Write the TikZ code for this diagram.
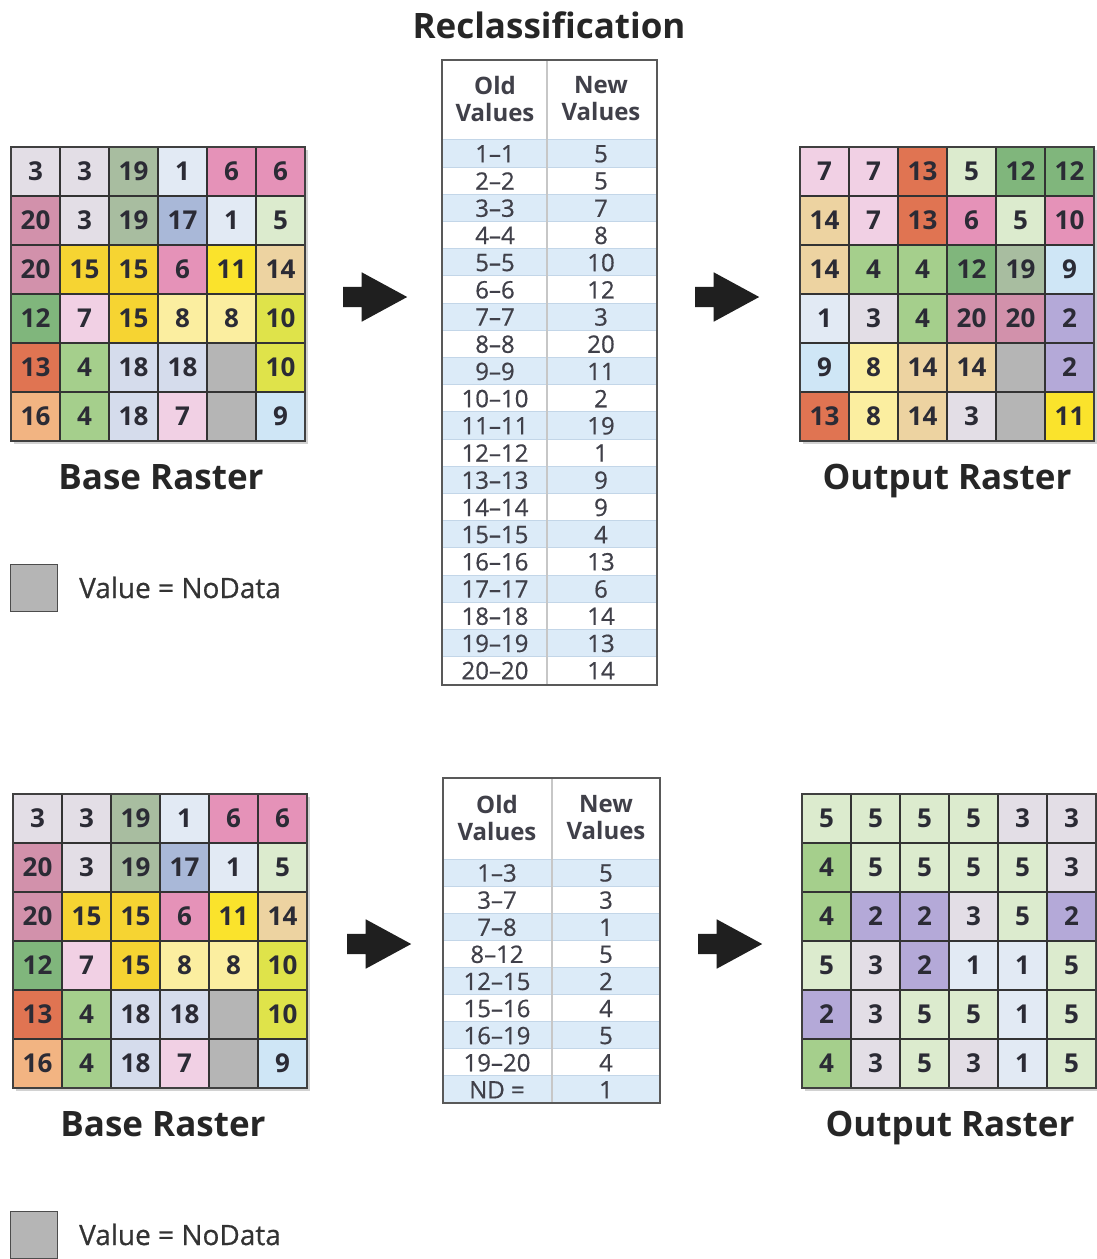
\documentclass[tikz,border=0pt]{standalone}
\usepackage{fontspec}
\setmainfont{Open Sans}
\newfontfamily\medfont[FakeBold=0.6]{Open Sans}
\usetikzlibrary{shapes.arrows}
\definecolor{c1}{HTML}{E2EAF4}
\definecolor{c2}{HTML}{B4A9D8}
\definecolor{c3}{HTML}{E3DEE6}
\definecolor{c4}{HTML}{A5CF8C}
\definecolor{c5}{HTML}{DCEBCE}
\definecolor{c6}{HTML}{E592B8}
\definecolor{c7}{HTML}{F1D0E4}
\definecolor{c8}{HTML}{FBEEA0}
\definecolor{c9}{HTML}{CFE6F6}
\definecolor{c10}{HTML}{DFE34A}
\definecolor{c11}{HTML}{FAE32C}
\definecolor{c12}{HTML}{80B67C}
\definecolor{c13}{HTML}{E07452}
\definecolor{c14}{HTML}{EDD3A1}
\definecolor{c15}{HTML}{F6D432}
\definecolor{c16}{HTML}{F2B482}
\definecolor{c17}{HTML}{A9B8D8}
\definecolor{c18}{HTML}{D5DCEC}
\definecolor{c19}{HTML}{A8BDA0}
\definecolor{c20}{HTML}{D291AB}
\definecolor{nd}{HTML}{B5B5B5}
\definecolor{txtdark}{HTML}{2B2B35}
\definecolor{stripe}{HTML}{DCEBF8}
\definecolor{stripeline}{HTML}{C3D6E8}
\tikzset{
  cell/.style={draw=black!80, line width=1.3pt, minimum width=49pt, minimum height=49pt,
    inner sep=0pt, font=\bfseries\fontsize{26}{26}\selectfont, text=txtdark},
  gridframe/.style={draw=black!75, line width=1.8pt},
  gshadow/.style={fill=black!35, opacity=.5},
  trow/.style={inner sep=0pt, font=\medfont\fontsize{24}{24}\selectfont, text=txtdark!90},
  thead/.style={inner sep=0pt, align=center, font=\bfseries\fontsize{24}{27}\selectfont, text=txtdark!90},
  tframe/.style={draw=black!65, line width=1.6pt},
  tdiv/.style={draw=black!22, line width=1.6pt},
  title/.style={inner sep=0pt, anchor=base, font=\bfseries\fontsize{35}{35}\selectfont, text=black!85},
  legtext/.style={inner sep=0pt, anchor=base west, font=\medfont\fontsize{28}{28}\selectfont, text=black!80},
  ndbox/.style={draw=black!70, line width=1.5pt, fill=nd, minimum width=47pt, minimum height=47pt, inner sep=0pt},
  bigarrow/.style={single arrow, anchor=tail, fill=black!88, draw=none, minimum height=64pt,
    minimum width=49pt, inner sep=10pt, single arrow head extend=14.5pt, single arrow tip angle=57}
}
\newcommand{\rgrid}[4]{%
  \fill[gshadow] (#2+3,#3+3) rectangle ++(294,294);
  \foreach \v/\c [count=\i from 0] in {#4} {
    \pgfmathtruncatemacro{\rowi}{div(\i,6)}
    \pgfmathtruncatemacro{\coli}{mod(\i,6)}
    \node[cell, fill=\c] (#1-\i) at (#2+24.5+49*\coli, #3+24.5+49*\rowi) {\v};
  }
  \draw[gridframe] (#2,#3) rectangle ++(294,294);
}
\begin{document}
\begin{tikzpicture}[x=1pt,y=-1pt]
\useasboundingbox[fill=white] (0,0) rectangle (1097,1259);

% ---------- Top row ----------
\node[title] (rtitle) at (549,38) {Reclassification};

\rgrid{b1}{11}{147}{3/c3,3/c3,19/c19,1/c1,6/c6,6/c6,
20/c20,3/c3,19/c19,17/c17,1/c1,5/c5,
20/c20,15/c15,15/c15,6/c6,11/c11,14/c14,
12/c12,7/c7,15/c15,8/c8,8/c8,10/c10,
13/c13,4/c4,18/c18,18/c18,{}/nd,10/c10,
16/c16,4/c4,18/c18,7/c7,{}/nd,9/c9}

\rgrid{o1}{800}{147}{7/c7,7/c7,13/c13,5/c5,12/c12,12/c12,
14/c14,7/c7,13/c13,6/c6,5/c5,10/c6,
14/c14,4/c4,4/c4,12/c12,19/c19,9/c9,
1/c1,3/c3,4/c4,20/c20,20/c20,2/c2,
9/c9,8/c8,14/c14,14/c14,{}/nd,2/c2,
13/c13,8/c8,14/c14,3/c3,{}/nd,11/c11}

\node[title] (b1lab) at (161,489) {Base Raster};
\node[title] (o1lab) at (947,489) {Output Raster};

\node[ndbox] (nd1) at (34,588) {};
\node[legtext] (nd1t) at (79,598) {Value = NoData};

% top table
\fill[white] (442,60) rectangle (657,685);
\foreach \o/\n [count=\i from 0] in {1–1/5,2–2/5,3–3/7,4–4/8,5–5/10,6–6/12,7–7/3,8–8/20,9–9/11,10–10/2,
11–11/19,12–12/1,13–13/9,14–14/9,15–15/4,16–16/13,17–17/6,18–18/14,19–19/13,20–20/14} {
  \pgfmathsetmacro{\yy}{139.8+27.2*\i}
  \ifodd\i\else
    \fill[stripe] (443,\yy) rectangle (656,\yy+27.2);
    \draw[stripeline, line width=1pt] (443,\yy) -- (656,\yy) (443,\yy+27.2) -- (656,\yy+27.2);
  \fi
  \node[trow] (t1o\i) at (495,\yy+14) {\o};
  \node[trow] (t1n\i) at (601,\yy+14) {\n};
}
\draw[tdiv] (547,60) -- (547,685);
\draw[tframe] (442,60) rectangle (657,685);
\node[thead] (t1ho) at (495,99) {Old\\Values};
\node[thead] (t1hn) at (601,99) {New\\Values};

\node[bigarrow] (a1) at (343,297) {};
\node[bigarrow] (a2) at (695,297) {};

% ---------- Bottom row ----------
\rgrid{b2}{13}{794}{3/c3,3/c3,19/c19,1/c1,6/c6,6/c6,
20/c20,3/c3,19/c19,17/c17,1/c1,5/c5,
20/c20,15/c15,15/c15,6/c6,11/c11,14/c14,
12/c12,7/c7,15/c15,8/c8,8/c8,10/c10,
13/c13,4/c4,18/c18,18/c18,{}/nd,10/c10,
16/c16,4/c4,18/c18,7/c7,{}/nd,9/c9}

\rgrid{o2}{802}{794}{5/c5,5/c5,5/c5,5/c5,3/c3,3/c3,
4/c4,5/c5,5/c5,5/c5,5/c5,3/c3,
4/c4,2/c2,2/c2,3/c3,5/c5,2/c2,
5/c5,3/c3,2/c2,1/c1,1/c1,5/c5,
2/c2,3/c3,5/c5,5/c5,1/c1,5/c5,
4/c4,3/c3,5/c5,3/c3,1/c1,5/c5}

\node[title] (b2lab) at (163,1136) {Base Raster};
\node[title] (o2lab) at (950,1136) {Output Raster};

\node[ndbox] (nd2) at (34,1235) {};
\node[legtext] (nd2t) at (79,1245) {Value = NoData};

% bottom table
\fill[white] (443,778) rectangle (660,1103);
\foreach \o/\n [count=\i from 0] in {1–3/5,3–7/3,7–8/1,8–12/5,12–15/2,15–16/4,16–19/5,19–20/4,ND =/1} {
  \pgfmathsetmacro{\yy}{859+27.1*\i}
  \ifodd\i\else
    \fill[stripe] (444,\yy) rectangle (659,\yy+27.1);
    \draw[stripeline, line width=1pt] (444,\yy) -- (659,\yy) (444,\yy+27.1) -- (659,\yy+27.1);
  \fi
  \node[trow] (t2o\i) at (497,\yy+14) {\o};
  \node[trow] (t2n\i) at (606,\yy+14) {\n};
}
\draw[tdiv] (552,778) -- (552,1103);
\draw[tframe] (443,778) rectangle (660,1103);
\node[thead] (t2ho) at (497,818) {Old\\Values};
\node[thead] (t2hn) at (606,818) {New\\Values};

\node[bigarrow] (a3) at (347,944) {};
\node[bigarrow] (a4) at (698,944) {};
\end{tikzpicture}
\end{document}
